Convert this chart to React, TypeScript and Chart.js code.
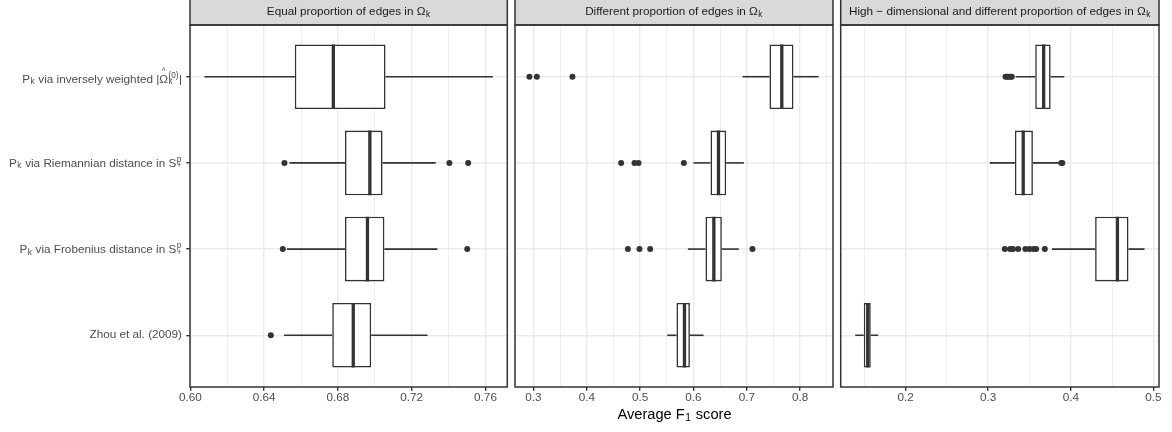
import React, { useEffect, useRef } from "react";
import { Chart, registerables } from "chart.js";
Chart.register(...registerables);

const FONT = '"Liberation Sans", Arial, Helvetica, sans-serif';

// ---------------- data ----------------
const categories = [
  "Pk via inversely weighted |Ω̂k(0)|",
  "Pk via Riemannian distance in S+p",
  "Pk via Frobenius distance in S+p",
  "Zhou et al. (2009)",
];
const panelTitles = [
  "Equal proportion of edges in Ωk",
  "Different proportion of edges in Ωk",
  "High − dimensional and different proportion of edges in Ωk",
];
const xAxisTitle = "Average F1 score";

// Panel 1: Equal proportion
const eqLower = [0.6076, 0.6537, 0.6523, 0.6508];
const eqQ1 = [0.6566, 0.6838, 0.6838, 0.6769];
const eqMedian = [0.6775, 0.6973, 0.696, 0.6883];
const eqQ3 = [0.7058, 0.7042, 0.7052, 0.698];
const eqUpper = [0.764, 0.733, 0.7339, 0.7286];
const eqOutliers = [[], [0.651, 0.7404, 0.7506], [0.6501, 0.7501], [0.6436]];
const eqMajorTicks = [0.6, 0.64, 0.68, 0.72, 0.76];
const eqTickLabels = ["0.60", "0.64", "0.68", "0.72", "0.76"];
const eqMinorTicks = [0.62, 0.66, 0.7, 0.74];

// Panel 2: Different proportion
const dfLower = [0.6919, 0.6, 0.5895, 0.5507];
const dfQ1 = [0.7425, 0.6319, 0.6225, 0.5681];
const dfMedian = [0.7656, 0.6469, 0.6382, 0.5831];
const dfQ3 = [0.7875, 0.6613, 0.6532, 0.5933];
const dfUpper = [0.8345, 0.6945, 0.6851, 0.6188];
const dfOutliers = [
  [0.2925, 0.3064, 0.3731],
  [0.4644, 0.4894, 0.4969, 0.582],
  [0.477, 0.4988, 0.5188, 0.7106],
  [],
];
const dfMajorTicks = [0.3, 0.4, 0.5, 0.6, 0.7, 0.8];
const dfTickLabels = ["0.3", "0.4", "0.5", "0.6", "0.7", "0.8"];
const dfMinorTicks = [0.35, 0.45, 0.55, 0.65, 0.75, 0.85];

// Panel 3: High-dimensional
const hdLower = [0.3331, 0.3019, 0.3772, 0.139];
const hdQ1 = [0.3569, 0.3323, 0.4294, 0.1494];
const hdMedian = [0.3671, 0.3424, 0.4564, 0.1542];
const hdQ3 = [0.3756, 0.3541, 0.4698, 0.1579];
const hdUpper = [0.3921, 0.3862, 0.4892, 0.1669];
const hdOutliers = [
  [0.321, 0.323, 0.325, 0.3268, 0.3285],
  [0.3885, 0.3897],
  [0.3201, 0.3265, 0.33, 0.3363, 0.345, 0.35, 0.355, 0.358, 0.3685],
  [],
];
const hdMajorTicks = [0.2, 0.3, 0.4, 0.5];
const hdTickLabels = ["0.2", "0.3", "0.4", "0.5"];
const hdMinorTicks = [0.15, 0.25, 0.35, 0.45];

// rich-text versions of the labels (sub/superscripts)
type Seg = [string, string, string?];
const categoryRich: Seg[][] = [
  [["n", "P"], ["sub", "k"], ["n", " via inversely weighted |"], ["hat", "Ω"], ["subsup", "k", "(0)"], ["n", "|"]],
  [["n", "P"], ["sub", "k"], ["n", " via Riemannian distance in S"], ["subsup", "+", "p"]],
  [["n", "P"], ["sub", "k"], ["n", " via Frobenius distance in S"], ["subsup", "+", "p"]],
  [["n", "Zhou et al. (2009)"]],
];
const titleRich: Seg[][] = [
  [["n", "Equal proportion of edges in Ω"], ["sub", "k"]],
  [["n", "Different proportion of edges in Ω"], ["sub", "k"]],
  [["n", "High − dimensional and different proportion of edges in Ω"], ["sub", "k"]],
];
const xTitleRich: Seg[] = [["n", "Average F"], ["sub", "1"], ["n", " score"]];

type PanelData = {
  lower: number[]; q1: number[]; med: number[]; q3: number[]; upper: number[];
  outliers: number[][]; major: number[]; labels: string[]; minor: number[];
};
const panelsData: PanelData[] = [
  { lower: eqLower, q1: eqQ1, med: eqMedian, q3: eqQ3, upper: eqUpper, outliers: eqOutliers, major: eqMajorTicks, labels: eqTickLabels, minor: eqMinorTicks },
  { lower: dfLower, q1: dfQ1, med: dfMedian, q3: dfQ3, upper: dfUpper, outliers: dfOutliers, major: dfMajorTicks, labels: dfTickLabels, minor: dfMinorTicks },
  { lower: hdLower, q1: hdQ1, med: hdMedian, q3: hdQ3, upper: hdUpper, outliers: hdOutliers, major: hdMajorTicks, labels: hdTickLabels, minor: hdMinorTicks },
];

// ---------------- layout ----------------
const CW = 1172, CH = 432;
const PANEL_X: [number, number][] = [[190, 507.3], [515, 833], [840.7, 1159]];
const PANEL_TOP = 25, PANEL_BOTTOM = 387;
const BOX_HALF = 0.375;
const INK = "#333333";
const GRID = "#EBEBEB";
const TXT = 11.73;

const SCRIPT = 0.7, SUB = 0.12, SUP = 0.42, HAT = 0.79;

function drawRich(ctx: CanvasRenderingContext2D, segs: Seg[], x: number, yMid: number, size: number, align: string, color: string) {
  const small = size * SCRIPT;
  const fMain = `${size}px ${FONT}`;
  const fSmall = `${small}px ${FONT}`;
  const widths = segs.map((s) => {
    if (s[0] === "n" || s[0] === "hat") { ctx.font = fMain; return ctx.measureText(s[1]).width; }
    ctx.font = fSmall;
    const w1 = ctx.measureText(s[1]).width;
    const w2 = s[2] ? ctx.measureText(s[2]).width : 0;
    return Math.max(w1, w2) + size * 0.08;
  });
  let up = 0.72 * size, down = 0.21 * size;
  segs.forEach((s) => {
    if (s[0] === "sup" || s[0] === "subsup") up = Math.max(up, SUP * size + 0.72 * small);
    if (s[0] === "hat") up = Math.max(up, HAT * size + 0.72 * small);
    if (s[0] === "sub" || s[0] === "subsup") down = Math.max(down, SUB * size);
  });
  const base = yMid + (up - down) / 2;
  const total = widths.reduce((a, b) => a + b, 0);
  let cx = align === "right" ? x - total : align === "center" ? x - total / 2 : x;
  ctx.fillStyle = color;
  ctx.textBaseline = "alphabetic";
  ctx.textAlign = "left";
  segs.forEach((s, i) => {
    const k = s[0];
    if (k === "n") { ctx.font = fMain; ctx.fillText(s[1], cx, base); }
    else if (k === "hat") {
      ctx.font = fMain; ctx.fillText(s[1], cx, base);
      ctx.font = fSmall; ctx.textAlign = "center";
      ctx.fillText("^", cx + widths[i] / 2, base - HAT * size);
      ctx.textAlign = "left";
    } else if (k === "sub") { ctx.font = fSmall; ctx.fillText(s[1], cx + size * 0.04, base + SUB * size); }
    else if (k === "sup") { ctx.font = fSmall; ctx.fillText(s[1], cx + size * 0.04, base - SUP * size); }
    else if (k === "subsup") {
      ctx.font = fSmall;
      ctx.fillText(s[1], cx + size * 0.04, base + SUB * size);
      ctx.fillText(s[2] || "", cx + size * 0.04, base - SUP * size);
    }
    cx += widths[i];
  });
}

function makeDecor(idx: number) {
  return {
    id: "decor" + idx,
    afterDraw(chart: any) {
      const ctx: CanvasRenderingContext2D = chart.ctx;
      const a = chart.chartArea;
      ctx.save();
      ctx.fillStyle = "#D9D9D9";
      ctx.fillRect(a.left, -2, a.right - a.left, a.top + 2);
      ctx.strokeStyle = INK;
      ctx.lineWidth = 1.5;
      ctx.strokeRect(a.left, -2, a.right - a.left, a.top + 2);
      ctx.strokeRect(a.left, a.top, a.right - a.left, a.bottom - a.top);
      drawRich(ctx, titleRich[idx], (a.left + a.right) / 2, a.top / 2, TXT, "center", "#1A1A1A");
      if (idx === 0) {
        const ys = chart.scales.y;
        categoryRich.forEach((segs, i) =>
          drawRich(ctx, segs, a.left - 3.7 - 4.3, ys.getPixelForValue(i + 1), TXT, "right", "#4D4D4D")
        );
      }
      if (idx === 1) {
        drawRich(ctx, xTitleRich, (PANEL_X[0][0] + PANEL_X[2][1]) / 2, 415.5, 14.67, "center", "#000000");
      }
      ctx.restore();
    },
  };
}

function lineDs(data: { x: number; y: number }[], width: number) {
  return {
    type: "line",
    data,
    borderColor: INK,
    borderWidth: width,
    pointRadius: 0,
    borderCapStyle: "butt",
    tension: 0,
    fill: false,
  };
}

function makeConfig(p: PanelData, idx: number): any {
  const [L, R] = PANEL_X[idx];
  const all = [...p.lower, ...p.upper, ...p.outliers.flat()];
  const lo = Math.min(...all), hi = Math.max(...all);
  const pad = (hi - lo) * 0.05;
  const ticksAll = [...p.major, ...p.minor].sort((a, b) => a - b);
  const isMajor = (v: number) => p.major.indexOf(v) >= 0;

  const datasets: any[] = [];
  p.med.forEach((m, i) =>
    datasets.push(lineDs([{ x: m, y: i + 1 - BOX_HALF }, { x: m, y: i + 1 + BOX_HALF }], 3.3))
  );
  datasets.push({
    type: "scatter",
    data: p.outliers.flatMap((arr, i) => arr.map((v) => ({ x: v, y: i + 1 }))),
    pointRadius: 3,
    pointBackgroundColor: INK,
    pointBorderWidth: 0,
    backgroundColor: INK,
    borderColor: INK,
    showLine: false,
  });
  datasets.push({
    type: "bar",
    indexAxis: "y",
    data: p.q1.map((q, i) => ({ x: [q, p.q3[i]], y: i + 1 })),
    backgroundColor: "#FFFFFF",
    borderColor: INK,
    borderWidth: 1.6,
    borderSkipped: false,
    barPercentage: 0.75,
    categoryPercentage: 1,
    grouped: false,
  });
  p.lower.forEach((lw, i) => {
    datasets.push(lineDs([{ x: lw, y: i + 1 }, { x: p.q1[i], y: i + 1 }], 1.6));
    datasets.push(lineDs([{ x: p.q3[i], y: i + 1 }, { x: p.upper[i], y: i + 1 }], 1.6));
  });

  return {
    type: "scatter",
    data: { datasets },
    options: {
      animation: false,
      responsive: false,
      maintainAspectRatio: false,
      devicePixelRatio: 1,
      events: [],
      layout: { padding: { left: idx === 0 ? 0 : L, right: CW - R, top: PANEL_TOP, bottom: 0 } },
      plugins: { legend: { display: false }, tooltip: { enabled: false }, title: { display: false } },
      scales: {
        x: {
          type: "linear",
          bounds: "data",
          min: lo - pad,
          max: hi + pad,
          offset: false,
          beginAtZero: false,
          afterBuildTicks: (s: any) => { s.ticks = ticksAll.map((v) => ({ value: v })); },
          afterFit: (s: any) => { s.height = CH - PANEL_BOTTOM; },
          ticks: {
            autoSkip: false,
            maxRotation: 0,
            minRotation: 0,
            padding: 0,
            color: "#4D4D4D",
            font: { family: FONT, size: TXT },
            callback: (v: number) => {
              const j = p.major.indexOf(v);
              return j >= 0 ? p.labels[j] : "";
            },
          },
          grid: {
            offset: false,
            color: GRID,
            lineWidth: (c: any) => (c.tick && isMajor(c.tick.value) ? 1.4 : 0.8),
            drawTicks: true,
            tickLength: 3.7,
            tickWidth: 1.4,
            tickColor: (c: any) => (c.tick && isMajor(c.tick.value) ? INK : "rgba(0,0,0,0)"),
          },
          border: { display: false },
        },
        y: {
          type: "linear",
          bounds: "data",
          min: 0.4,
          max: 4.6,
          reverse: true,
          offset: false,
          beginAtZero: false,
          afterBuildTicks: (s: any) => { s.ticks = categories.map((_, i) => ({ value: i + 1 })); },
          afterFit: (s: any) => { s.width = idx === 0 ? L : 0; },
          ticks: { display: false },
          grid: {
            offset: false,
            color: GRID,
            lineWidth: 1.4,
            drawTicks: idx === 0,
            tickLength: 3.7,
            tickWidth: 1.4,
            tickColor: INK,
          },
          border: { display: false },
        },
      },
    },
    plugins: [makeDecor(idx)],
  };
}

export default function App() {
  const r0 = useRef<HTMLCanvasElement>(null);
  const r1 = useRef<HTMLCanvasElement>(null);
  const r2 = useRef<HTMLCanvasElement>(null);
  const refs = [r0, r1, r2];
  useEffect(() => {
    document.body.style.margin = "0";
    const charts = refs.map((r, i) => new Chart(r.current as HTMLCanvasElement, makeConfig(panelsData[i], i)));
    return () => charts.forEach((c) => c.destroy());
  }, []);
  return (
    <div style={{ position: "relative", width: CW, height: CH, background: "#FFFFFF" }}>
      {refs.map((r, i) => (
        <canvas
          key={i}
          ref={r}
          width={CW}
          height={CH}
          aria-label={i === 0 ? panelTitles.join("; ") + "; " + xAxisTitle : undefined}
          style={{ position: "absolute", left: 0, top: 0, width: CW, height: CH }}
        />
      ))}
    </div>
  );
}
